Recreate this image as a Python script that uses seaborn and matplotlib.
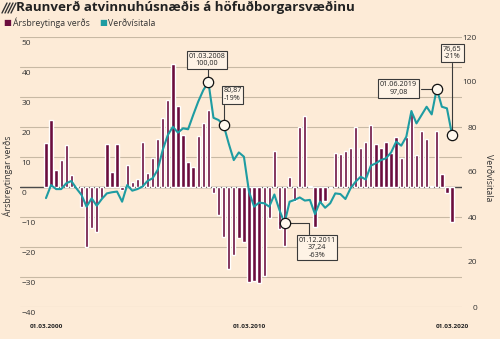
import matplotlib
matplotlib.use("Agg")
import matplotlib.pyplot as plt
import matplotlib.transforms as mtrans
from matplotlib.lines import Line2D
import numpy as np
import pandas as pd
import seaborn as sns

# ---------------- data ----------------
quarters = pd.date_range("2000-03-01", periods=81, freq="3MS")
quarter_labels = [d.strftime("%d.%m.%Y") for d in quarters]

annual_change = [14.6, 22.3, 5.7, 9.0, 14.0, 4.0, 0.3, -6.6, -20.0, -13.8,
                 -14.9, -3.6, 14.2, 5.1, 14.3, -1.1, 7.3, 1.6, 2.7, 15.1,
                 4.6, 9.6, 16.0, 22.9, 29.0, 40.9, 27.1, 17.3, 8.4, 6.8,
                 17.0, 21.4, 25.7, -1.9, -9.3, -16.6, -27.4, -22.7, -16.9, -18.2,
                 -31.6, -31.2, -32.0, -29.8, -10.4, 12.0, -14.0, -19.6, 3.4, -4.6,
                 20.1, 23.7, 0.2, -13.4, -5.2, -4.6, -0.4, 11.4, 11.0, 12.0,
                 12.9, 19.9, 13.1, 15.1, 20.7, 14.2, 13.1, 15.1, 11.2, 16.7,
                 9.8, 16.7, 24.9, 10.7, 18.7, 16.0, 0.2, 18.7, 4.2, -2.1, -11.6]

price_index = [48.4, 54.2, 52.4, 52.4, 55.0, 56.0, 52.7, 49.8, 44.6, 48.3,
               45.0, 48.0, 50.5, 51.0, 51.3, 46.8, 54.2, 51.7, 52.4, 53.5,
               56.0, 57.2, 60.9, 69.8, 76.4, 80.1, 77.5, 79.4, 79.0, 85.3,
               91.3, 96.4, 100.00, 84.1, 83.1, 80.87, 72.7, 65.3, 68.7, 66.8,
               51.3, 44.6, 46.4, 46.1, 44.6, 50.0, 43.1, 37.24, 46.8, 47.6,
               48.7, 47.3, 47.6, 41.3, 46.8, 44.1, 46.1, 50.5, 50.2, 48.0,
               52.7, 55.7, 57.9, 56.7, 62.8, 63.9, 65.3, 66.1, 68.7, 73.5,
               71.7, 75.7, 87.1, 81.6, 85.3, 89.0, 85.6, 97.08, 89.0, 88.3, 76.65]

left_ticks = list(range(-40, 51, 10))
right_ticks = list(range(0, 121, 20))
xtick_pos = [0, 40, 80]

title = "Raunverð atvinnuhúsnæðis á höfuðborgarsvæðinu"
legend_bar = "Ársbreytinga verðs"
legend_line = "Verðvísitala"
left_label = "Ársbreytingar verðs"
right_label = "Verðvísitala"

# ---------------- style ----------------
BG = "#FDEBD7"
MAROON = "#6B0D3E"
TEAL = "#1E9CA2"
GRID = "#C8B9A4"
DARK = "#3A3A3A"

sns.set_style("white", {"axes.facecolor": BG, "figure.facecolor": BG})
plt.rcParams["font.family"] = ["Open Sans", "DejaVu Sans"]

df = pd.DataFrame({"pos": np.arange(len(annual_change)),
                   "label": quarter_labels,
                   "change": annual_change,
                   "index": price_index})

W, H = 500, 339
fig = plt.figure(figsize=(W / 100, H / 100), dpi=100)
fig.patch.set_facecolor(BG)
ax = fig.add_axes([20 / W, 1 - 307 / H, 442 / W, 270 / H])
ax.set_facecolor(BG)

sns.barplot(data=df, x="pos", y="change", native_scale=True, color=MAROON,
            saturation=1, width=0.66, ax=ax, zorder=3)
ax.set_ylim(-40, 50)
ax.set_yticks(left_ticks)
ax.grid(axis="y", color=GRID, lw=0.8, zorder=0)
ax.set_axisbelow(True)
ax.axhline(0, color="#4a4a4a", lw=1.0, zorder=2)
for s in ax.spines.values():
    s.set_visible(False)

ax2 = ax.twinx()
sns.lineplot(data=df, x="pos", y="index", color=TEAL, lw=1.5, ax=ax2, zorder=4)
ax2.set_ylim(0, 120)
ax2.set_yticks(right_ticks)
for s in ax2.spines.values():
    s.set_visible(False)

ax.set_xlim(-5.12, 81.97)
ax.set_xticks(xtick_pos)
ax.set_xticklabels([quarter_labels[i] for i in xtick_pos], fontsize=4.6,
                   fontweight="bold", color="#222")
ax.tick_params(axis="x", length=0, pad=12)
ax.set_xlabel("")
ax.set_ylabel("")
ax2.set_xlabel("")
ax2.set_ylabel("")

ax.tick_params(axis="y", length=0, pad=-1, labelsize=6, labelcolor="#333")
off = mtrans.ScaledTranslation(0, -2.5 / 72, fig.dpi_scale_trans)
for t in ax.get_yticklabels():
    t.set_horizontalalignment("left")
    t.set_verticalalignment("top")
    t.set_transform(t.get_transform() + off)

ax2.tick_params(axis="y", length=0, pad=10.8, labelsize=6, labelcolor="#333")
for t in ax2.get_yticklabels():
    t.set_horizontalalignment("right")

# axis titles
fig.text(8 / W, 1 - 176 / H, left_label, rotation=90, ha="center", va="center",
         fontsize=6.3, color="#333")
fig.text(488 / W, 1 - 178 / H, right_label, rotation=270, ha="center", va="center",
         fontsize=6.3, color="#333")

# title icon (diagonal stripes)
for k in range(4):
    x0 = 2 + 3 * k
    fig.add_artist(Line2D([x0 / W, (x0 + 5) / W], [1 - 13 / H, 1 - 3 / H],
                          transform=fig.transFigure, color="#333", lw=1.0))
fig.text(16 / W, 1 - 7.5 / H, title, fontsize=9.6, fontweight="bold", color="#222",
         ha="left", va="center")
# legend
fig.text(3.5 / W, 1 - 23 / H, "■", color=MAROON, fontsize=6, ha="left", va="center",
         family="DejaVu Sans")
fig.text(13 / W, 1 - 23 / H, legend_bar, color="#333", fontsize=6.3, ha="left", va="center")
fig.text(99.5 / W, 1 - 23 / H, "■", color=TEAL, fontsize=6, ha="left", va="center",
         family="DejaVu Sans")
fig.text(108 / W, 1 - 23 / H, legend_line, color="#333", fontsize=6.3, ha="left", va="center")

# annotations
def fmt(v):
    return f"{v:.2f}".replace(".", ",")

def pct(a, b):
    return f"{round((a / b - 1) * 100):d}%"

box = dict(boxstyle="square,pad=0.25", fc="#FEF3E6", ec=DARK, lw=0.8)
i_peak1, i_a, i_low, i_peak2, i_last = 32, 35, 47, 77, 80
v = price_index

# connectors
ax2.plot([i_peak1, i_peak1], [v[i_peak1], 106], color=DARK, lw=0.8, zorder=5)
ax2.plot([i_a, i_a], [v[i_a], 90], color=DARK, lw=0.8, zorder=5)
ax2.plot([i_low, 51.8, 51.8], [v[i_low], v[i_low], 32.4], color=DARK, lw=0.8, zorder=5)
ax2.plot([73.9, i_peak2], [v[i_peak2], v[i_peak2]], color=DARK, lw=0.8, zorder=5)
ax2.plot([i_last, i_last], [v[i_last], 108.5], color=DARK, lw=0.8, zorder=5)

pts = [i_peak1, i_a, i_low, i_peak2, i_last]
ax2.scatter(pts, [v[i] for i in pts], s=55, facecolor="#FFF8EE", edgecolor="#111",
            linewidth=0.9, zorder=6)

kw = dict(ha="center", va="center", fontsize=5.2, color="#222", bbox=box,
          linespacing=1.1, zorder=7)
ax2.text(31.7, 109.8, f"{quarter_labels[i_peak1]}\n{fmt(v[i_peak1])}", **kw)
ax2.text(36.75, 94.4, f"{fmt(v[i_a])}\n{pct(v[i_a], v[i_peak1])}", **kw)
ax2.text(53.4, 26.4, f"{quarter_labels[i_low]}\n{fmt(v[i_low])}\n{pct(v[i_low], v[i_peak1])}", **kw)
ax2.text(69.45, 97.1, f"{quarter_labels[i_peak2]}\n{fmt(v[i_peak2])}", **kw)
ax2.text(80.1, 112.9, f"{fmt(v[i_last])}\n{pct(v[i_last], v[i_peak2])}", **kw)

fig.savefig("out.png", dpi=100, facecolor=BG)
